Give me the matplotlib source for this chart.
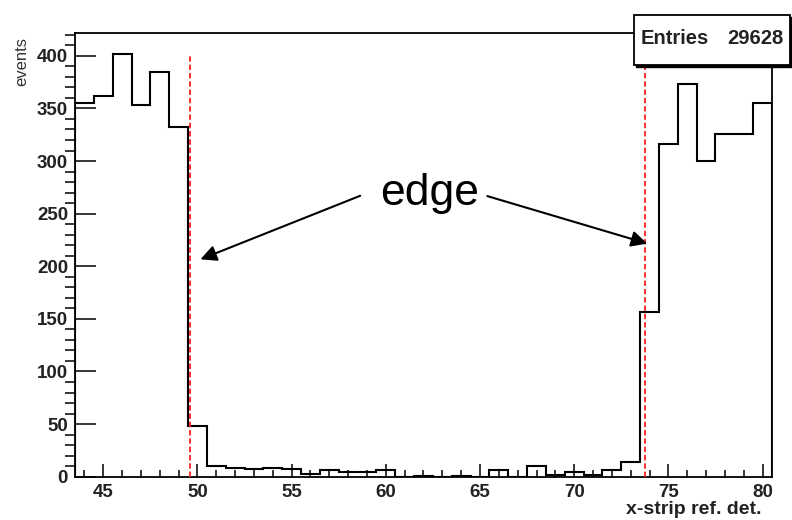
import numpy as np
import matplotlib.pyplot as plt
from matplotlib.patches import Rectangle

# strip numbers (bin centres) and counts per strip
strips = np.arange(44, 81)
counts = [355, 362, 402, 353, 385, 332, 48, 10, 8, 7, 8, 7, 3, 6, 4, 4,
          6, 0, 1, 0, 1, 0, 6, 0, 10, 2, 4, 2, 6, 14, 157, 316, 373, 300,
          326, 326, 355]
entries = 29628
edge_lines = [49.6, 73.75]
label_xy = (62.35, 258)
arrow_tips = [(50.16, 206.6), (73.88, 221.6)]
arrow_starts = [(58.64, 267.0), (65.39, 266.7)]

plt.rcParams['font.family'] = ['Liberation Sans', 'DejaVu Sans']

fig = plt.figure(figsize=(7.92, 5.2), dpi=100)
ax = fig.add_axes([0.0947, 0.0833, 0.88, 0.8538])

edges = np.append(strips - 0.5, strips[-1] + 0.5)
ax.stairs(counts, edges, color='black', linewidth=1.5, baseline=0)

for x in edge_lines:
    ax.plot([x, x], [0, 400], color='#ff2020', linestyle=(0, (3, 1.6)),
            linewidth=1.3, zorder=3)

ax.set_xlim(43.5, 80.5)
ax.set_ylim(0, 422)
ax.set_xticks(np.arange(45, 81, 5))
ax.set_xticks(np.arange(44, 81, 1), minor=True)
ax.set_yticks(np.arange(0, 401, 50))
ax.set_yticks(np.arange(0, 421, 10), minor=True)

ax.tick_params(axis='both', direction='in', width=1.1, colors='black',
               labelcolor='#222222', labelsize=13.5)
ax.tick_params(axis='y', which='major', length=15, pad=5)
ax.tick_params(axis='y', which='minor', length=7.2, width=1.1)
ax.tick_params(axis='x', which='major', length=9.4, pad=5)
ax.tick_params(axis='x', which='minor', length=5, width=1.1, direction='in')
for lab in ax.get_xticklabels() + ax.get_yticklabels():
    lab.set_fontweight('bold')
for sp in ax.spines.values():
    sp.set_linewidth(1.3)

ax.text(*label_xy, 'edge', fontsize=32, ha='center', va='baseline')
for tip, start in zip(arrow_tips, arrow_starts):
    ax.annotate('', xy=tip, xytext=start,
                arrowprops=dict(arrowstyle='-|>', color='black', lw=1.5,
                                mutation_scale=24, shrinkA=0, shrinkB=0))

fig.text(21.7 / 792, 1 - 37 / 520, 'events', rotation=90, ha='center',
         va='top', fontsize=12, color='#333333')
fig.text(761 / 792, 1 - 514 / 520, 'x-strip ref. det.', ha='right',
         va='baseline', fontsize=14, fontweight='bold', color='#222222')

# stats box with shadow
bx, by, bw, bh = 634 / 792, 1 - 65 / 520, 156 / 792, 50 / 520
fig.patches.append(Rectangle((bx + 2 / 792, by - 2 / 520), bw, bh,
                             transform=fig.transFigure, facecolor='black',
                             edgecolor='black', zorder=4))
fig.patches.append(Rectangle((bx, by), bw, bh, transform=fig.transFigure,
                             facecolor='white', edgecolor='black',
                             linewidth=1.3, zorder=5))
fig.text(641 / 792, 1 - 39 / 520, 'Entries', ha='left', va='center',
         fontsize=14.5, fontweight='bold', color='#222222', zorder=6)
fig.text(784 / 792, 1 - 39 / 520, str(entries), ha='right', va='center',
         fontsize=14.5, fontweight='bold', color='#222222', zorder=6)

fig.savefig('out.png', dpi=100)
